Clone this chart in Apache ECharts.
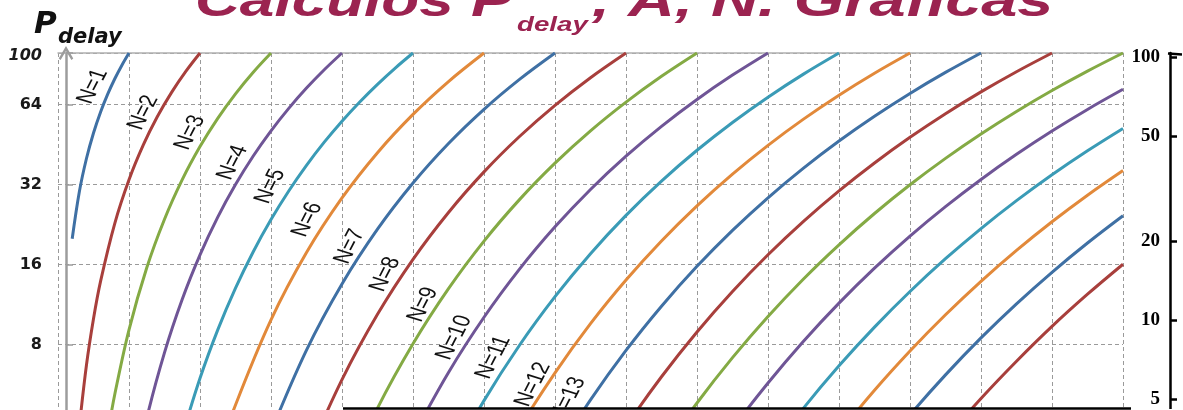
<!DOCTYPE html>
<html><head><meta charset="utf-8">
<script src="https://cdn.jsdelivr.net/npm/echarts@6.0.0/dist/echarts.min.js"></script>
<style>html,body{margin:0;padding:0;background:#fff;overflow:hidden}#c{width:1183px;height:410px}</style>
</head><body><div id="c"></div>
<script>
// Traffic A (Erlang) vs P_delay (%) for N servers
const curveN1 = [[0.2,20],[0.3,30],[0.4,40],[0.5,50],[0.6,60],[0.7,70],[0.8,80],[0.9,90],[1.0,100]];
const curveN2 = [[0.3,3.91],[0.4,6.67],[0.5,10],[0.6,13.85],[0.8,22.86],[1.0,33.33],[1.2,45],[1.4,57.65],[1.6,71.11],[1.8,85.26],[2,100]];
const curveN3 = [[0.7,3.69],[0.8,5.2],[1.0,9.09],[1.25,15.55],[1.5,23.68],[1.75,33.37],[2.0,44.44],[2.25,56.78],[2.5,70.22],[2.75,84.67],[3,100]];
const curveN4 = [[1.0,2.04],[1.25,4.22],[1.5,7.46],[1.75,11.84],[2.0,17.39],[2.25,24.12],[2.5,31.98],[2.75,40.95],[3.0,50.94],[3.25,61.91],[3.5,73.79],[3.75,86.5],[4,100]];
const curveN5 = [[1.75,3.64],[2.0,5.97],[2.25,9.08],[2.5,13.04],[2.75,17.88],[3.0,23.62],[3.25,30.26],[3.5,37.78],[3.75,46.18],[4.0,55.41],[4.25,65.45],[4.5,76.25],[4.75,87.78],[5,100]];
const curveN6 = [[2.25,3.03],[2.5,4.74],[3.0,9.91],[3.5,17.75],[4.0,28.48],[4.5,42.17],[5.0,58.75],[5.5,78.09],[6,100]];
const curveN7 = [[3.0,3.76],[3.5,7.62],[4.0,13.51],[4.5,21.72],[5.0,32.41],[5.5,45.65],[6.0,61.38],[6.5,79.54],[7,100]];
const curveN8 = [[3.5,2.99],[4.0,5.9],[4.5,10.39],[5.0,16.73],[5.5,25.12],[6.0,35.7],[6.5,48.5],[7.0,63.53],[7.5,80.73],[8,100]];
const curveN9 = [[4.0,2.38],[4.5,4.61],[5.0,8.05],[5.5,12.98],[6.0,19.6],[6.5,28.07],[7.0,38.49],[7.5,50.92],[8.0,65.33],[8.5,81.71],[9,100]];
const curveN10 = [[5.0,3.61],[5.5,6.28],[6.0,10.13],[6.5,15.37],[7.0,22.17],[7.5,30.66],[8.0,40.92],[8.5,52.99],[9.0,66.87],[9.5,82.56],[10,100]];
const curveN11 = [[5.5,2.84],[6.0,4.92],[6.5,7.95],[7.0,12.11],[7.5,17.58],[8.0,24.5],[8.5,32.96],[9.0,43.05],[9.5,54.79],[10.0,68.21],[10.5,83.29],[11,100]];
const curveN12 = [[6.0,2.25],[6.5,3.88],[7.0,6.26],[7.5,9.58],[8.0,13.98],[8.5,19.62],[9.0,26.6],[9.5,35.02],[10.0,44.94],[10.5,56.39],[11.0,69.39],[11.5,83.93],[12,100]];
const curveN13 = [[7.0,3.06],[7.5,4.95],[8.0,7.6],[8.5,11.15],[9.0,15.75],[9.5,21.51],[10.0,28.53],[10.5,36.88],[11.0,46.64],[11.5,57.82],[12.0,70.44],[12.5,84.51],[13,100]];
const curveN14 = [[7.5,2.43],[8.0,3.93],[8.5,6.05],[9.0,8.92],[9.5,12.67],[10.0,17.41],[10.5,23.26],[11.0,30.29],[11.5,38.58],[12.0,48.17],[12.5,59.1],[13.0,71.38],[13.5,85.02],[14,100]];
const curveN15 = [[8.5,3.12],[9.0,4.82],[9.5,7.14],[10.0,10.2],[10.5,14.12],[11.0,18.98],[11.5,24.89],[12.0,31.92],[12.5,40.13],[13.0,49.57],[13.5,60.26],[14.0,72.23],[14.5,85.48],[15,100]];
const curveN16 = [[9.0,2.49],[9.5,3.86],[10.0,5.73],[10.5,8.23],[11.0,11.45],[11.5,15.5],[12.0,20.46],[12.5,26.41],[13.0,33.43],[13.5,41.56],[14.0,50.85],[14.5,61.33],[15.0,73.01]];
const curveN17 = [[10.0,3.09],[10.5,4.61],[11.0,6.65],[11.5,9.3],[12.0,12.66],[12.5,16.82],[13.0,21.85],[13.5,27.83],[14.0,34.83],[14.5,42.88],[15.0,52.03]];
const curveN18 = [[10.5,2.48],[11.0,3.71],[11.5,5.38],[12.0,7.56],[12.5,10.35],[13.0,13.83],[13.5,18.08],[14.0,23.17],[14.5,29.17],[15.0,36.13]];
const curveN19 = [[11.5,2.99],[12.0,4.35],[12.5,6.15],[13.0,8.47],[13.5,11.38],[14.0,14.96],[14.5,19.28],[15.0,24.42]];
const curveN20 = [[12.0,2.41],[12.5,3.53],[13.0,5.01],[13.5,6.92],[14.0,9.36],[14.5,12.37],[15.0,16.04]];

const curves = [curveN1,curveN2,curveN3,curveN4,curveN5,curveN6,curveN7,curveN8,curveN9,curveN10,
                curveN11,curveN12,curveN13,curveN14,curveN15,curveN16,curveN17,curveN18,curveN19,curveN20];
const curveNames = curves.map((c, i) => 'N=' + (i + 1));
const palette = ['#3f70a4', '#a83f3c', '#84aa44', '#6f5596', '#3a9bb6', '#e2893a'];

const leftTickLabels = [8, 16, 32, 64, 100];
const rightTickLabels = [5, 10, 20, 50, 100];
// where each "N=k" label sits, in data coordinates [A, P]
const labelAnchors = [[0.49,74.8],[1.20,59.7],[1.86,50.2],[2.46,38.7],[2.99,31.5],[3.51,23.6],[4.11,18.7],
                      [4.61,14.7],[5.14,11.3],[5.58,8.49],[6.13,7.15],[6.69,5.66],[7.18,4.98]];
const labelTexts = curveNames.slice(0, labelAnchors.length);

const chart = echarts.init(document.getElementById('c'), null, {renderer: 'canvas'});

const series = curves.map((d, i) => ({
  name: curveNames[i],
  type: 'line',
  data: d,
  xAxisIndex: 0,
  yAxisIndex: 0,
  showSymbol: false,
  symbol: 'none',
  smooth: 0.35,
  clip: true,
  lineStyle: {width: 3, color: palette[i % palette.length]},
  itemStyle: {color: palette[i % palette.length]},
  z: 3
}));

const dash = {color: '#9a9a9a', width: 1, type: [4, 3]};

chart.setOption({
  animation: false,
  backgroundColor: '#fff',
  grid: {left: 58, right: 60, top: 53, bottom: 0, containLabel: false},
  xAxis: {
    type: 'value', min: 0, max: 15, interval: 1, position: 'top',
    axisLine: {show: true, lineStyle: {color: '#b0b0b0', width: 1.5}},
    axisTick: {show: false}, axisLabel: {show: false},
    splitLine: {show: true, lineStyle: dash}
  },
  yAxis: [{
    type: 'log', logBase: 2, min: 4.536, max: 100, position: 'left', offset: -8,
    axisLine: {show: true, onZero: false, lineStyle: {color: '#9c9c9c', width: 2.5},
      symbol: ['none', 'path://M5,0 L10,8.6 L8.7,9.6 L5,3.4 L1.3,9.6 L0,8.6 Z'],
      symbolSize: [15, 14], symbolOffset: [0, 0]},
    axisTick: {show: true, inside: true, length: 7, customValues: leftTickLabels, lineStyle: {color: '#9c9c9c', width: 1.5}},
    axisLabel: {
      show: true, margin: 24, customValues: leftTickLabels,
      color: '#1a1a1a', fontFamily: 'DejaVu Sans', fontWeight: 'bold', fontSize: 16,
      formatter: v => Math.round(v) === 100 ? '{i|100}' : String(Math.round(v)),
      rich: {i: {fontFamily: 'DejaVu Sans', fontWeight: 'bold', fontStyle: 'italic', fontSize: 16, color: '#1a1a1a', padding: [6, 0, 0, 0]}}
    },
    splitLine: {show: true, lineStyle: dash}
  }, {
    type: 'log', logBase: 10, min: 4.549, max: 103.6, position: 'right', offset: 47,
    axisLine: {show: true, onZero: false, lineStyle: {color: '#000', width: 2.5}},
    axisTick: {show: true, inside: false, length: 7, customValues: rightTickLabels, lineStyle: {color: '#000', width: 2.5}},
    axisLabel: {show: true, inside: true, margin: 10, customValues: rightTickLabels,
      color: '#000', fontFamily: 'Liberation Serif', fontWeight: 'bold', fontSize: 19},
    splitLine: {show: false}
  }],
  series: series
});

// annotations placed through the chart's own scales
const labelGraphics = labelAnchors.map((p, i) => {
  const px = chart.convertToPixel({xAxisIndex: 0, yAxisIndex: 0}, p);
  return {
    type: 'group', x: px[0], y: px[1], scaleX: 1.3, z: 50,
    children: [{
      type: 'text', rotation: 68 * Math.PI / 180,
      style: {text: labelTexts[i], fill: '#111', fontFamily: 'Liberation Sans', fontSize: 19,
        align: 'center', verticalAlign: 'middle', textAlign: 'center', textVerticalAlign: 'middle'}
    }]
  };
});

const titleColor = '#9b2350';
const txt = (x, y, text, size, opts) => Object.assign({
  type: 'text', x: x, y: y, z: 60,
  style: Object.assign({text: text, fill: titleColor, fontFamily: 'Liberation Sans', fontWeight: 'bold',
    fontStyle: 'italic', fontSize: size, align: 'left', verticalAlign: 'middle',
    textAlign: 'left', textVerticalAlign: 'middle'}, opts && opts.style || {})
}, opts && opts.el || {});

chart.setOption({
  graphic: [
    txt(195, 3.4, 'Calculos P', 46, {el: {scaleX: 1.35}}),
    txt(517, 25.2, 'delay', 20.5, {el: {scaleX: 1.35}}),
    txt(592, 3.4, ', A, N. Graficas', 46, {el: {scaleX: 1.41}}),
    txt(34, 24.5, 'P', 31, {style: {fill: '#111', fontFamily: 'DejaVu Sans'}}),
    txt(58, 38, 'delay', 21, {style: {fill: '#111', fontFamily: 'DejaVu Sans'}}),
    {type: 'line', z: 70, shape: {x1: 1168, y1: 53.5, x2: 1182, y2: 54.5}, style: {stroke: '#000', lineWidth: 2.5}},
    {type: 'rect', z: 65, shape: {x: 343, y: 409, width: 840, height: 6}, style: {fill: '#fff'}},
    {type: 'line', z: 70, shape: {x1: 343, y1: 408.5, x2: 1131, y2: 408.5}, style: {stroke: '#000', lineWidth: 2.5}}
  ].concat(labelGraphics)
});
</script>
</body></html>
